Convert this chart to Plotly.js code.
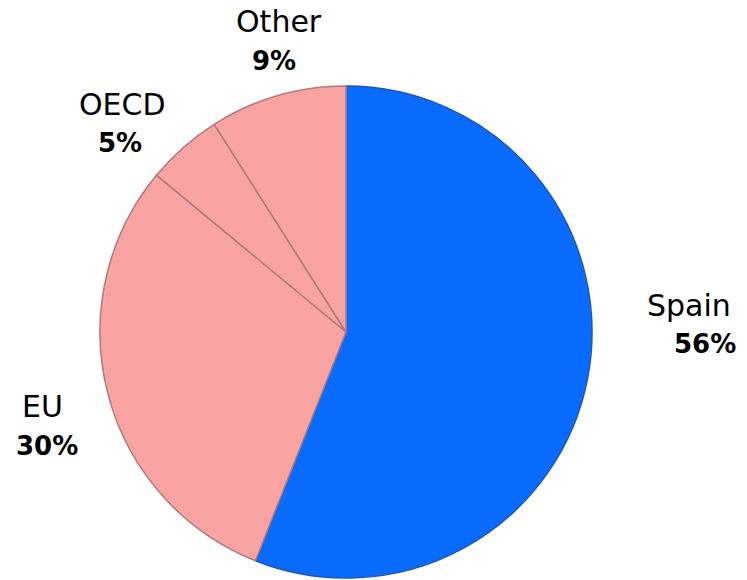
<!DOCTYPE html>
<html>
<head>
<meta charset="utf-8">
<script src="https://cdn.plot.ly/plotly-3.0.1.min.js"></script>
<style>html,body{margin:0;padding:0;background:#fff;}#chart{width:747px;height:580px;}</style>
</head>
<body>
<div id="chart"></div>
<script>
// Data
const labels = ["Spain", "EU", "OECD", "Other"];
const values = [56, 30, 5, 9];
const sliceColors = ["#0A6BFF", "#F9A3A3", "#F9A3A3", "#F9A3A3"];
const edgeColors = ["#1F57B8", "#B07A7A", "#B07A7A", "#B07A7A"];

// Label placement (pixel centres in the 747x580 figure)
const W = 747, H = 580;
const namePos = [[689, 305], [42, 406], [122, 104], [279, 22]];
const pctPos  = [[705, 344], [47, 446], [120, 143], [274, 61]];

const annotations = [];
labels.forEach((lab, i) => {
  annotations.push({
    text: lab, xref: "paper", yref: "paper",
    x: namePos[i][0] / W, y: 1 - namePos[i][1] / H,
    xanchor: "center", yanchor: "middle", showarrow: false,
    font: {family: "DejaVu Sans", size: 30, color: "#000"}
  });
  annotations.push({
    text: "<b>" + values[i] + "%</b>", xref: "paper", yref: "paper",
    x: pctPos[i][0] / W, y: 1 - pctPos[i][1] / H,
    xanchor: "center", yanchor: "middle", showarrow: false,
    font: {family: "DejaVu Sans", size: 26, color: "#000"}
  });
});

const cx = 346, cy = 332, r = 246;
const trace = {
  type: "pie",
  labels: labels,
  values: values,
  sort: false,
  direction: "clockwise",
  rotation: 0,
  textinfo: "none",
  hoverinfo: "label+percent",
  marker: {colors: sliceColors, line: {color: edgeColors, width: 1.5}},
  domain: {x: [(cx - r) / W, (cx + r) / W], y: [1 - (cy + r) / H, 1 - (cy - r) / H]},
  showlegend: false
};

Plotly.newPlot("chart", [trace], {
  width: W, height: H,
  margin: {l: 0, r: 0, t: 0, b: 0},
  paper_bgcolor: "#fff",
  showlegend: false,
  annotations: annotations
}, {displayModeBar: false, staticPlot: true});
</script>
</body>
</html>
